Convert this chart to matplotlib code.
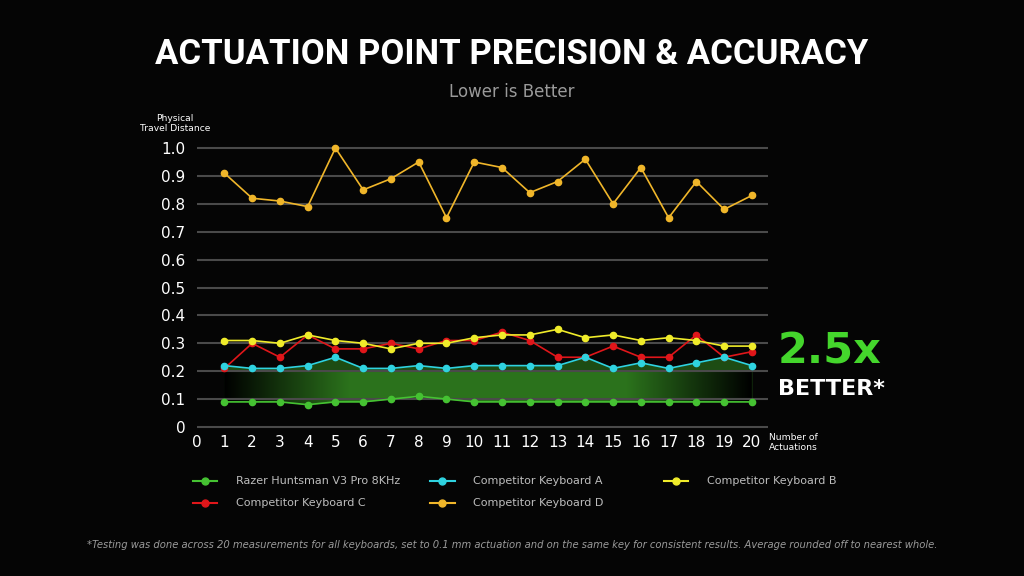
import numpy as np
import matplotlib
matplotlib.use("Agg")
import matplotlib.pyplot as plt
from matplotlib.lines import Line2D

# measurements 1..20
actuations = list(range(1, 21))
razer = [0.09, 0.09, 0.09, 0.08, 0.09, 0.09, 0.10, 0.11, 0.10, 0.09,
         0.09, 0.09, 0.09, 0.09, 0.09, 0.09, 0.09, 0.09, 0.09, 0.09]
comp_a = [0.22, 0.21, 0.21, 0.22, 0.25, 0.21, 0.21, 0.22, 0.21, 0.22,
          0.22, 0.22, 0.22, 0.25, 0.21, 0.23, 0.21, 0.23, 0.25, 0.22]
comp_b = [0.31, 0.31, 0.30, 0.33, 0.31, 0.30, 0.28, 0.30, 0.30, 0.32,
          0.33, 0.33, 0.35, 0.32, 0.33, 0.31, 0.32, 0.31, 0.29, 0.29]
comp_c = [0.21, 0.30, 0.25, 0.33, 0.28, 0.28, 0.30, 0.28, 0.31, 0.31,
          0.34, 0.31, 0.25, 0.25, 0.29, 0.25, 0.25, 0.33, 0.25, 0.27]
comp_d = [0.91, 0.82, 0.81, 0.79, 1.00, 0.85, 0.89, 0.95, 0.75, 0.95,
          0.93, 0.84, 0.88, 0.96, 0.80, 0.93, 0.75, 0.88, 0.78, 0.83]

series_names = ["Razer Huntsman V3 Pro 8KHz", "Competitor Keyboard A", "Competitor Keyboard B",
                "Competitor Keyboard C", "Competitor Keyboard D"]
series_colors = ["#45c232", "#2fd3e0", "#f0ec2a", "#e0161a", "#f0b62a"]

y_ticks = [0, 0.1, 0.2, 0.3, 0.4, 0.5, 0.6, 0.7, 0.8, 0.9, 1.0]
y_labels = ["0", "0.1", "0.2", "0.3", "0.4", "0.5", "0.6", "0.7", "0.8", "0.9", "1.0"]
x_ticks = list(range(0, 21))

BG = "#050505"
fig = plt.figure(figsize=(10.24, 5.76), dpi=100, facecolor=BG)
ax = fig.add_axes([0.192, 0.2587, 0.558, 0.4843])
ax.set_facecolor(BG)

for s in ax.spines.values():
    s.set_visible(False)
ax.tick_params(length=0, colors="white", labelsize=11)
ax.tick_params(axis="y", pad=8)
ax.tick_params(axis="x", pad=6)
ax.set_yticks(y_ticks)
ax.set_yticklabels(y_labels)
ax.set_xticks(x_ticks)

# grid lines
ax.hlines(y_ticks, 0, 20.58, colors="#4a4a4a", lw=1.5, zorder=1.5, clip_on=False)

# green band between razer and keyboard A, fading out at both ends
poly = ax.fill_between(actuations, razer, comp_a, color="#1d4c13", lw=0, zorder=1)
xs = np.linspace(1, 20, 300)
prof = np.clip(np.minimum((xs - 1) / 4.5, (20 - xs) / 4.5), 0, 1)
grad = np.zeros((2, 300, 3))
for i, c in enumerate([0.17, 0.45, 0.11]):
    grad[:, :, i] = prof * c
img = ax.imshow(grad, extent=(1, 20, 0.05, 0.2), aspect="auto", zorder=1.2,
                interpolation="bilinear")
img.set_clip_path(poly.get_paths()[0], transform=ax.transData)
ax.set_xlim(0, 20.58)
ax.set_ylim(0, 1.0)

data = [razer, comp_a, comp_b, comp_c, comp_d]
for k in [4, 2, 3, 1, 0]:
    ax.plot(actuations, data[k], color=series_colors[k], lw=1.2, marker="o", ms=4.5,
            zorder=3 + (4 - k) * 0.1, clip_on=False)

# texts
fig.text(0.5, 0.906, "ACTUATION POINT PRECISION & ACCURACY", color="white", fontsize=25,
         fontweight="bold", ha="center", va="center", family=["Roboto", "DejaVu Sans"])
fig.text(0.5, 0.840, "Lower is Better", color="#9a9a9a", fontsize=12, ha="center", va="center")
fig.text(0.171, 0.786, "Physical\nTravel Distance", color="white", fontsize=6.6,
         ha="center", va="center", linespacing=1.15)
fig.text(0.751, 0.231, "Number of\nActuations", color="white", fontsize=6.6,
         ha="left", va="center", linespacing=1.15)
fig.text(0.759, 0.389, "2.5x", color="#44d62c", fontsize=31, fontweight="bold",
         ha="left", va="center")
fig.text(0.760, 0.324, "BETTER*", color="white", fontsize=16, fontweight="bold",
         ha="left", va="center")

# legend
leg_x = [0.188, 0.420, 0.648]
leg_y = [0.165, 0.127]
leg_pos = [(0, 0), (1, 0), (2, 0), (0, 1), (1, 1)]
for k, (col, row) in enumerate(leg_pos):
    x0 = leg_x[col]
    yy = leg_y[row]
    fig.add_artist(Line2D([x0, x0 + 0.024], [yy, yy], color=series_colors[k], lw=1.5))
    fig.add_artist(Line2D([x0 + 0.012], [yy], color=series_colors[k], marker="o", ms=5))
    fig.text(x0 + 0.042, yy, series_names[k], color="#bdbdbd", fontsize=8, ha="left", va="center")

fig.text(0.5, 0.054, "*Testing was done across 20 measurements for all keyboards, set to 0.1 mm actuation "
         "and on the same key for consistent results. Average rounded off to nearest whole.",
         color="#9a9a9a", fontsize=7.2, style="italic", ha="center", va="center")

fig.savefig("out.png", dpi=100, facecolor=BG)
